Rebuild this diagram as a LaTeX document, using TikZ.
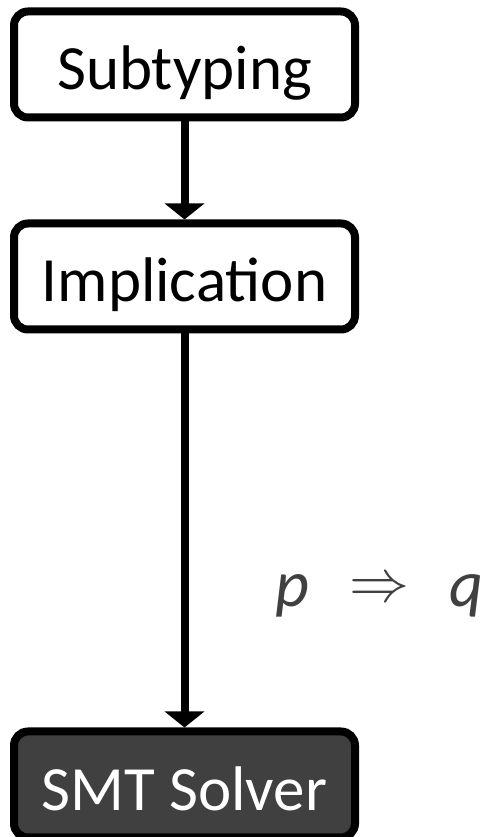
\documentclass[tikz,border=0pt]{standalone}
\usepackage{fontspec}
\setmainfont{Carlito}
\usepackage{amsmath}
\usepackage{graphicx}
\usetikzlibrary{positioning,arrows.meta}
\definecolor{solvergray}{HTML}{404040}
\tikzset{
    stage/.style={draw=black, line width=8pt, rounded corners=14pt, fill=white,
        minimum width=341pt, minimum height=106pt, inner sep=0pt,
        text height=51pt, text depth=0pt,
        font=\fontsize{63}{70}\selectfont},
    flow/.style={line width=8pt, -{Triangle[width=39pt,length=16pt]}}
}
\begin{document}
\begin{tikzpicture}[x=1pt,y=1pt]
        \useasboundingbox (0,0) rectangle (493,837);
        % Draw the pipeline stages
        \node[stage] (sub) at (184.5,772.5) {Subtyping};
        \node[stage, below=98pt of sub] (impl) {Implication};
        \node[stage, below=394pt of impl, fill=solvergray, text=white] (smt) {SMT Solver};

        % Draw the arrows between stages
        \draw[flow] (sub) -- (impl);
        \draw[flow] (impl) -- (smt);

        % Draw the formula beside the arrow
        \node[anchor=base west, inner sep=0pt, text=solvergray, font=\fontsize{66}{70}\selectfont] (formula) at (275,230)
            {\itshape p\hspace{40pt}\raisebox{5pt}{\resizebox{60pt}{!}{$\Rightarrow$}}\hspace{40pt}q};
    \end{tikzpicture}
\end{document}
